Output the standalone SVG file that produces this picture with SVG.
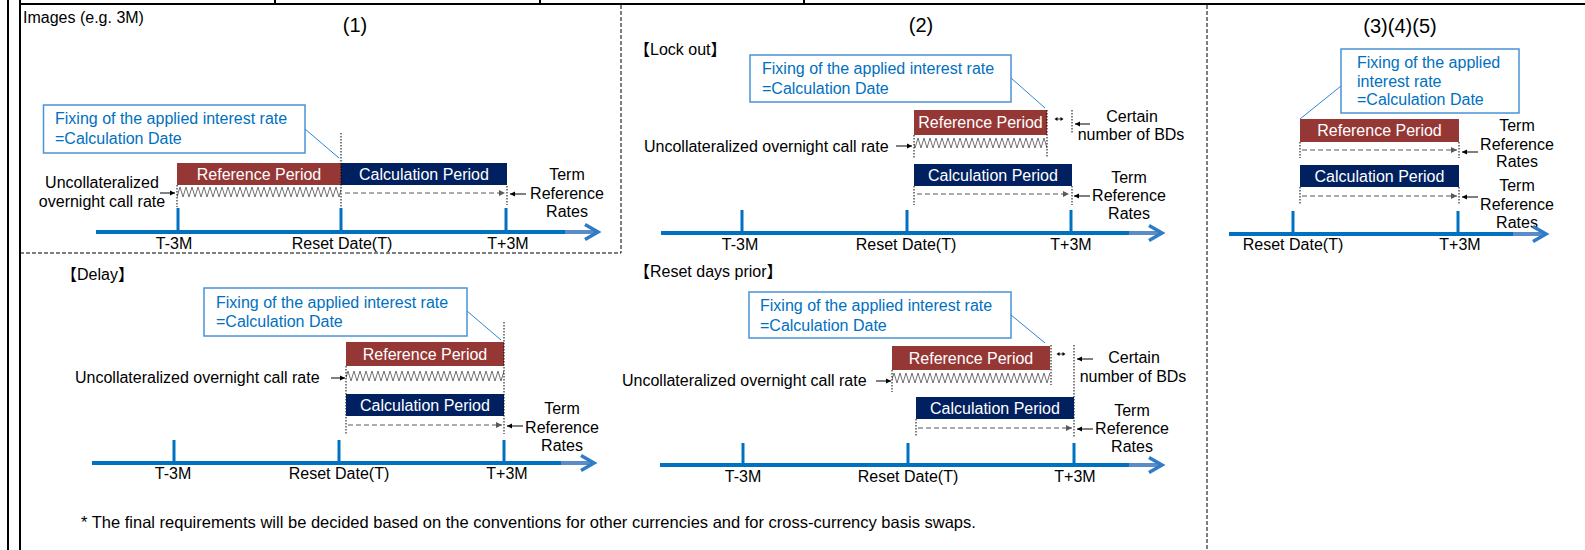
<svg xmlns="http://www.w3.org/2000/svg" width="1585" height="550" viewBox="0 0 1585 550">
<style>
.t{font-family:"Liberation Sans",Arial,"Noto Sans CJK JP",sans-serif;font-size:16px;fill:#000}
.c{text-anchor:middle}
.w{fill:#fff}
.bl{fill:#0070C0}
.ttl{font-size:20px}
.box{fill:#fff;stroke:#4A93D6;stroke-width:1.5}
.ref{fill:#953735}
.calc{fill:#002060}
.dot{stroke:#000;stroke-width:1;stroke-dasharray:1.5 1.5;fill:none}
.dash{stroke:#595959;stroke-width:1.2;stroke-dasharray:5 3;fill:none;marker-end:url(#ag)}
.sa{stroke:#000;stroke-width:1;fill:none;marker-end:url(#ab)}
.tick{stroke:#0070C0;stroke-width:3}
.ax{stroke:#0070C0;stroke-width:4}
.axl{stroke:#5B8CC8;stroke-width:4}
.chev{stroke:#2E7CC6;stroke-width:3.5;fill:none}
.lead{stroke:#2E86D1;stroke-width:1;fill:none}
.frame{stroke:#000;stroke-width:2}
.sep{stroke:#000;stroke-width:1;stroke-dasharray:4 2}
.zzp{stroke:#6F6F6F;stroke-width:1;fill:none}
.dbl{fill:#000}
</style>
<defs>
<marker id="ab" markerWidth="6" markerHeight="6" refX="5" refY="3" orient="auto" markerUnits="userSpaceOnUse"><path d="M0,0.5 L5,3 L0,5.5 z" fill="#000"/></marker>
<marker id="ag" markerWidth="7" markerHeight="7" refX="6" refY="3.5" orient="auto" markerUnits="userSpaceOnUse"><path d="M0,0.5 L6,3.5 L0,6.5 z" fill="#595959"/></marker>
<pattern id="zz1" x="0" y="186" width="6" height="13" patternUnits="userSpaceOnUse"><path class="zzp" d="M-3,11 L0,1 L3,11 L6,1 L9,11"/></pattern>
<pattern id="zz2" x="0" y="370" width="6" height="13" patternUnits="userSpaceOnUse"><path class="zzp" d="M-3,11 L0,1 L3,11 L6,1 L9,11"/></pattern>
<pattern id="zz3" x="0" y="137" width="6" height="13" patternUnits="userSpaceOnUse"><path class="zzp" d="M-3,11 L0,1 L3,11 L6,1 L9,11"/></pattern>
<pattern id="zz4" x="0" y="372" width="6" height="13" patternUnits="userSpaceOnUse"><path class="zzp" d="M-3,11 L0,1 L3,11 L6,1 L9,11"/></pattern>
</defs>

<g id="frame">
<line class="frame" x1="8" y1="0" x2="8" y2="550"/>
<line class="frame" x1="20" y1="0" x2="20" y2="550"/>
<line class="frame" x1="20" y1="4" x2="1585" y2="4"/>
<line class="frame" x1="275" y1="0" x2="275" y2="4"/>
<line class="frame" x1="540" y1="0" x2="540" y2="4"/>
<line class="frame" x1="804" y1="0" x2="804" y2="4"/>
<line class="sep" x1="20" y1="253" x2="621" y2="253"/>
<line class="sep" x1="621" y1="5" x2="621" y2="253"/>
<line class="sep" x1="1207" y1="5" x2="1207" y2="550"/>
<text class="t" x="23" y="23">Images (e.g. 3M)</text>
<text class="t c ttl" x="355" y="32">(1)</text>
<text class="t c ttl" x="921" y="32">(2)</text>
<text class="t c ttl" x="1400" y="33">(3)(4)(5)</text>
<text class="t" x="61" y="280">【Delay】</text>
<text class="t" x="634" y="55">【Lock out】</text>
<text class="t" x="634" y="277">【Reset days prior】</text>
<text class="t" x="81" y="528" style="font-size:16.5px">* The final requirements will be decided based on the conventions for other currencies and for cross-currency basis swaps.</text>
</g>

<!-- Panel 1 -->
<g id="p1-callout">
<rect class="box" x="43.5" y="105" width="261.5" height="48"/>
<text class="t bl" x="55" y="124">Fixing of the applied interest rate</text>
<text class="t bl" x="55" y="144">=Calculation Date</text>
</g>
<g id="p1-ref">
<rect class="ref" x="177" y="163" width="164" height="22"/>
<text class="t c w" x="259" y="180">Reference Period</text>
</g>
<g id="p1-calc">
<rect class="calc" x="341" y="163" width="166" height="22"/>
<text class="t c w" x="424" y="180">Calculation Period</text>
</g>
<g id="p1-zigzag">
<rect x="177" y="186" width="164" height="13" fill="url(#zz1)"/>
<line class="dot" x1="341" y1="133" x2="341" y2="207"/>
<line class="dot" x1="177" y1="185" x2="177" y2="207"/>
<line class="dot" x1="507" y1="186" x2="507" y2="205"/>
</g>
<g id="p1-ovn">
<text class="t c" x="102" y="188">Uncollateralized</text>
<text class="t c" x="102" y="207">overnight call rate</text>
</g>
<g id="p1-term">
<text class="t c" x="567" y="180">Term</text>
<text class="t c" x="567" y="199">Reference</text>
<text class="t c" x="567" y="217">Rates</text>
</g>
<g id="p1-axis">
<line class="ax" x1="96" y1="232" x2="565" y2="232"/>
<line class="axl" x1="565" y1="232" x2="597" y2="232"/>
<polyline class="chev" points="585,224.5 598,232 585,239.5"/>
<line class="tick" x1="178" y1="208" x2="178" y2="232"/>
<line class="tick" x1="341" y1="208" x2="341" y2="232"/>
<line class="tick" x1="506" y1="208" x2="506" y2="232"/>
<text class="t c" x="174" y="249">T-3M</text>
<text class="t c" x="342" y="249">Reset Date(T)</text>
<text class="t c" x="508" y="249">T+3M</text>
</g>

<!-- Delay -->
<g id="delay-callout">
<rect class="box" x="204" y="288" width="263" height="48"/>
<text class="t bl" x="216" y="308">Fixing of the applied interest rate</text>
<text class="t bl" x="216" y="327">=Calculation Date</text>
</g>
<g id="delay-ref">
<rect class="ref" x="346" y="342" width="158" height="24"/>
<text class="t c w" x="425" y="360">Reference Period</text>
</g>
<g id="delay-zigzag">
<rect x="346" y="370" width="158" height="13" fill="url(#zz2)"/>
<line class="dot" x1="346" y1="366" x2="346" y2="434"/>
</g>
<g id="delay-calc">
<rect class="calc" x="346" y="394" width="158" height="22"/>
<text class="t c w" x="425" y="411">Calculation Period</text>
<line class="dot" x1="504" y1="322" x2="504" y2="434"/>
</g>
<g id="delay-ovn">
<text class="t" x="75" y="383">Uncollateralized overnight call rate</text>
</g>
<g id="delay-term">
<text class="t c" x="562" y="414">Term</text>
<text class="t c" x="562" y="433">Reference</text>
<text class="t c" x="562" y="451">Rates</text>
</g>
<g id="delay-axis">
<line class="ax" x1="92" y1="463" x2="561" y2="463"/>
<line class="axl" x1="561" y1="463" x2="593" y2="463"/>
<polyline class="chev" points="581,455.5 594,463 581,470.5"/>
<line class="tick" x1="174" y1="440" x2="174" y2="463"/>
<line class="tick" x1="339" y1="440" x2="339" y2="463"/>
<line class="tick" x1="504" y1="440" x2="504" y2="463"/>
<text class="t c" x="173" y="479">T-3M</text>
<text class="t c" x="339" y="479">Reset Date(T)</text>
<text class="t c" x="507" y="479">T+3M</text>
</g>

<!-- Lock out -->
<g id="lock-callout">
<rect class="box" x="750" y="55" width="261" height="47"/>
<text class="t bl" x="762" y="74">Fixing of the applied interest rate</text>
<text class="t bl" x="762" y="94">=Calculation Date</text>
</g>
<g id="lock-ref">
<rect class="ref" x="914" y="110" width="133" height="25"/>
<text class="t c w" x="980.5" y="128">Reference Period</text>
</g>
<g id="lock-zigzag">
<rect x="914" y="137" width="133" height="13" fill="url(#zz3)"/>
<line class="dot" x1="1047" y1="110" x2="1047" y2="158"/>
<line class="dot" x1="914" y1="135" x2="914" y2="158"/>
<line class="dot" x1="1072" y1="110" x2="1072" y2="134"/>
<path class="dbl" d="M1054.5,119 l3,-2 v4 z M1063.5,119 l-3,-2 v4 z"/>
<line x1="1056" y1="119" x2="1062" y2="119" stroke="#000" stroke-width="0.8"/>
</g>
<g id="lock-calc">
<rect class="calc" x="914" y="164" width="158" height="22"/>
<text class="t c w" x="993" y="181">Calculation Period</text>
<line class="dot" x1="914" y1="186" x2="914" y2="205"/>
<line class="dot" x1="1072" y1="186" x2="1072" y2="205"/>
</g>
<g id="lock-ovn">
<text class="t" x="644" y="152">Uncollateralized overnight call rate</text>
</g>
<g id="lock-bds">
<text class="t c" x="1132" y="122">Certain</text>
<text class="t c" x="1131" y="140">number of BDs</text>
</g>
<g id="lock-term">
<text class="t c" x="1129" y="183">Term</text>
<text class="t c" x="1129" y="201">Reference</text>
<text class="t c" x="1129" y="219">Rates</text>
</g>
<g id="lock-axis">
<line class="ax" x1="661" y1="233" x2="1129" y2="233"/>
<line class="axl" x1="1129" y1="233" x2="1161" y2="233"/>
<polyline class="chev" points="1149,225.5 1162,233 1149,240.5"/>
<line class="tick" x1="742" y1="210" x2="742" y2="233"/>
<line class="tick" x1="907" y1="210" x2="907" y2="233"/>
<line class="tick" x1="1071" y1="210" x2="1071" y2="233"/>
<text class="t c" x="740" y="250">T-3M</text>
<text class="t c" x="906" y="250">Reset Date(T)</text>
<text class="t c" x="1071" y="250">T+3M</text>
</g>

<!-- Reset days prior -->
<g id="reset-callout">
<rect class="box" x="749" y="292" width="262" height="46"/>
<text class="t bl" x="760" y="311">Fixing of the applied interest rate</text>
<text class="t bl" x="760" y="331">=Calculation Date</text>
</g>
<g id="reset-ref">
<rect class="ref" x="892" y="346" width="158" height="24"/>
<text class="t c w" x="971" y="364">Reference Period</text>
</g>
<g id="reset-zigzag">
<rect x="892" y="372" width="158" height="13" fill="url(#zz4)"/>
<line class="dot" x1="1051" y1="345" x2="1051" y2="385"/>
<line class="dot" x1="892" y1="370" x2="892" y2="392"/>
<line class="dot" x1="1074" y1="345" x2="1074" y2="437"/>
<path class="dbl" d="M1056.5,354 l3,-2 v4 z M1065.5,354 l-3,-2 v4 z"/>
<line x1="1058" y1="354" x2="1064" y2="354" stroke="#000" stroke-width="0.8"/>
</g>
<g id="reset-calc">
<rect class="calc" x="916" y="397" width="158" height="22"/>
<text class="t c w" x="995" y="414">Calculation Period</text>
<line class="dot" x1="916" y1="419" x2="916" y2="437"/>
</g>
<g id="reset-ovn">
<text class="t" x="622" y="386">Uncollateralized overnight call rate</text>
</g>
<g id="reset-bds">
<text class="t c" x="1134" y="363">Certain</text>
<text class="t c" x="1133" y="382">number of BDs</text>
</g>
<g id="reset-term">
<text class="t c" x="1132" y="416">Term</text>
<text class="t c" x="1132" y="434">Reference</text>
<text class="t c" x="1132" y="452">Rates</text>
</g>
<g id="reset-axis">
<line class="ax" x1="660" y1="465" x2="1129" y2="465"/>
<line class="axl" x1="1129" y1="465" x2="1161" y2="465"/>
<polyline class="chev" points="1149,457.5 1162,465 1149,472.5"/>
<line class="tick" x1="743" y1="443" x2="743" y2="465"/>
<line class="tick" x1="908" y1="443" x2="908" y2="465"/>
<line class="tick" x1="1074" y1="443" x2="1074" y2="465"/>
<text class="t c" x="743" y="482">T-3M</text>
<text class="t c" x="908" y="482">Reset Date(T)</text>
<text class="t c" x="1075" y="482">T+3M</text>
</g>

<!-- Panel 3 -->
<g id="p3-callout">
<rect class="box" x="1341" y="49" width="178" height="64"/>
<text class="t bl" x="1357" y="68">Fixing of the applied</text>
<text class="t bl" x="1357" y="87">interest rate</text>
<text class="t bl" x="1357" y="105">=Calculation Date</text>
</g>
<g id="p3-ref">
<rect class="ref" x="1300" y="119" width="159" height="23"/>
<text class="t c w" x="1379.5" y="136">Reference Period</text>
<line class="dot" x1="1300" y1="142" x2="1300" y2="158"/>
<line class="dot" x1="1459" y1="142" x2="1459" y2="158"/>
</g>
<g id="p3-calc">
<rect class="calc" x="1300" y="165" width="159" height="22"/>
<text class="t c w" x="1379.5" y="182">Calculation Period</text>
<line class="dot" x1="1300" y1="187" x2="1300" y2="205"/>
<line class="dot" x1="1459" y1="187" x2="1459" y2="205"/>
</g>
<g id="p3-term1">
<text class="t c" x="1517" y="131">Term</text>
<text class="t c" x="1517" y="150">Reference</text>
<text class="t c" x="1517" y="167">Rates</text>
</g>
<g id="p3-term2">
<text class="t c" x="1517" y="191">Term</text>
<text class="t c" x="1517" y="210">Reference</text>
<text class="t c" x="1517" y="228">Rates</text>
</g>
<g id="p3-axis">
<line class="ax" x1="1229" y1="234" x2="1513" y2="234"/>
<line class="axl" x1="1513" y1="234" x2="1545" y2="234"/>
<polyline class="chev" points="1533,226.5 1546,234 1533,241.5"/>
<line class="tick" x1="1293" y1="211" x2="1293" y2="234"/>
<line class="tick" x1="1458" y1="211" x2="1458" y2="234"/>
<text class="t c" x="1293" y="250">Reset Date(T)</text>
<text class="t c" x="1460" y="250">T+3M</text>
</g>

<g id="connectors">
<line class="lead" x1="305" y1="129" x2="339" y2="158"/>
<line class="lead" x1="467" y1="311" x2="501" y2="340"/>
<line class="lead" x1="1011" y1="78" x2="1045" y2="108"/>
<line class="lead" x1="1011" y1="315" x2="1045" y2="343"/>
<line class="lead" x1="1341" y1="86" x2="1300" y2="119"/>
<line class="dash" x1="345" y1="193" x2="505" y2="193"/>
<line class="dash" x1="348" y1="425" x2="502" y2="425"/>
<line class="dash" x1="917" y1="194" x2="1069" y2="194"/>
<line class="dash" x1="918" y1="428" x2="1072" y2="428"/>
<line class="dash" x1="1302" y1="150" x2="1457" y2="150"/>
<line class="dash" x1="1302" y1="196" x2="1457" y2="196"/>
<line class="sa" x1="160" y1="193" x2="175" y2="193"/>
<line class="sa" x1="526" y1="194" x2="510" y2="194"/>
<line class="sa" x1="331" y1="378" x2="345" y2="378"/>
<line class="sa" x1="523" y1="426" x2="507" y2="426"/>
<line class="sa" x1="896" y1="146" x2="912" y2="146"/>
<line class="sa" x1="1090" y1="124" x2="1075" y2="124"/>
<line class="sa" x1="1090" y1="196" x2="1074" y2="196"/>
<line class="sa" x1="876" y1="381" x2="891" y2="381"/>
<line class="sa" x1="1093" y1="359" x2="1077" y2="359"/>
<line class="sa" x1="1093" y1="429" x2="1077" y2="429"/>
<line class="sa" x1="1478" y1="152" x2="1462" y2="152"/>
<line class="sa" x1="1478" y1="197" x2="1462" y2="197"/>
</g>
</svg>
